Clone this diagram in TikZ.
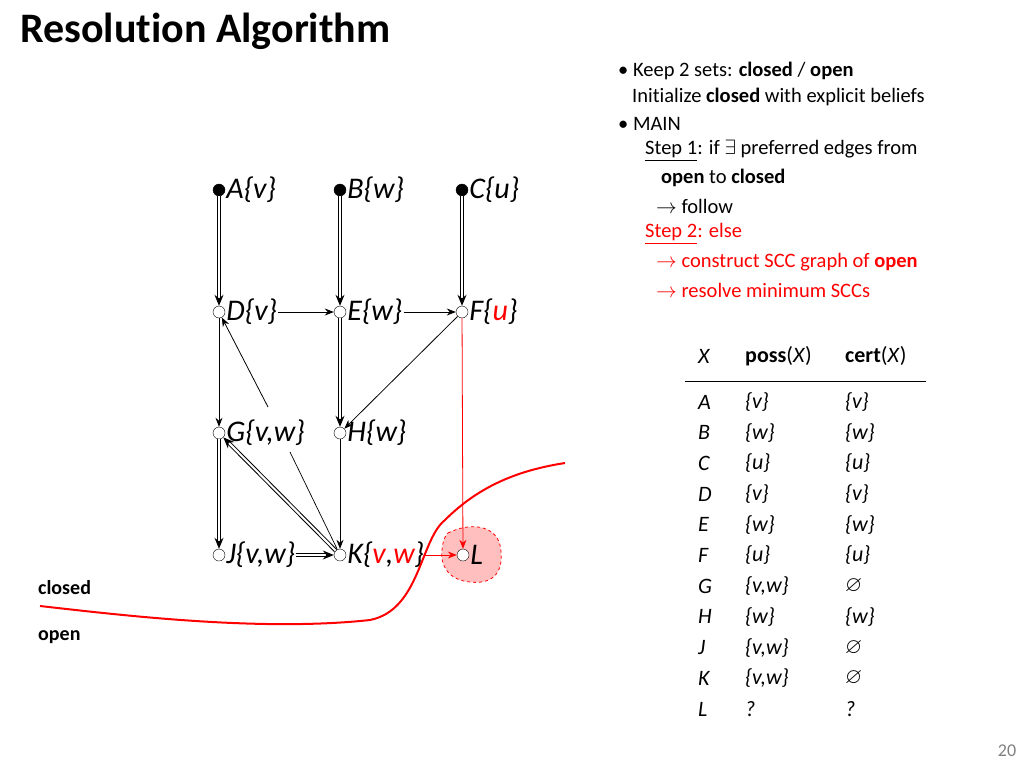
\documentclass[tikz,border=0pt]{standalone}
\usepackage{amssymb}
\usepackage{fontspec}
\setmainfont{Carlito}[Ligatures=NoCommon]
\usetikzlibrary{arrows.meta}
\begin{document}
\begin{tikzpicture}[x=1pt,y=-1pt,
  closedn/.style={circle,fill=black,draw=black,inner sep=0pt,minimum size=12pt},
  openn/.style={circle,fill=white,draw=black,inner sep=0pt,minimum size=12pt},
  lab/.style={anchor=west,font=\fontsize{30}{32}\selectfont\itshape,inner sep=1pt},
  dbl/.style={double,double distance=2pt,line width=1pt,-{Stealth[length=11pt,width=9pt]}},
  sgl/.style={line width=0.8pt,-{Stealth[length=9pt,width=7pt]}},
  txt/.style={anchor=west,font=\fontsize{20.5}{22}\selectfont,inner sep=0pt},
  tb/.style={anchor=west,font=\fontsize{22}{24}\selectfont,inner sep=0pt}]
\useasboundingbox (0,0) rectangle (1024,768);
\node[anchor=west,font=\fontsize{42}{46}\selectfont\bfseries,inner sep=0pt] (title) at (20,31) {Resolution Algorithm};
% bullets
\node[txt] (b1) at (618,71) {\textbullet\ Keep 2 sets: \textbf{closed} / \textbf{open}};
\node[txt] (b2) at (632,97) {Initialize \textbf{closed} with explicit beliefs};
\node[txt] (b3) at (618,124) {\textbullet\ MAIN};
\node[txt] (b4) at (645,151) {\underline{Step 1}: if $\exists$ preferred edges from};
\node[txt] (b5) at (661,178) {\textbf{open} to \textbf{closed}};
\node[txt] (b6) at (656,206) {$\rightarrow$ follow};
\node[txt,red] (b7) at (645,234) {\underline{Step 2}: else};
\node[txt,red] (b8) at (656,262) {$\rightarrow$ construct SCC graph of \textbf{open}};
\node[txt,red] (b9) at (656,290) {$\rightarrow$ resolve minimum SCCs};
% table
\node[tb] (hx) at (698,356) {\itshape X};
\node[tb] (hp) at (745,356) {\textbf{poss}(\textit{X})};
\node[tb] (hc) at (845,356) {\textbf{cert}(\textit{X})};
\draw[line width=0.8pt] (685,381) -- (926,381);
\foreach \n/\p/\c [count=\i from 0] in {A/{\{v\}}/{\{v\}},B/{\{w\}}/{\{w\}},C/{\{u\}}/{\{u\}},D/{\{v\}}/{\{v\}},E/{\{w\}}/{\{w\}},F/{\{u\}}/{\{u\}},G/{\{v,w\}}/{$\varnothing$},H/{\{w\}}/{\{w\}},J/{\{v,w\}}/{$\varnothing$},K/{\{v,w\}}/{$\varnothing$},L/?/?}{
  \node[tb] (tx\i) at (698,{402+30.7*\i}) {\itshape \n};
  \node[tb] (tp\i) at (745,{402+30.7*\i}) {\itshape \p};
  \node[tb] (tc\i) at (845,{402+30.7*\i}) {\itshape \c};
}
\node[anchor=west,font=\fontsize{20}{22}\selectfont\bfseries,inner sep=0pt] (cl) at (38,588) {closed};
\node[anchor=west,font=\fontsize{20}{22}\selectfont\bfseries,inner sep=0pt] (op) at (38,637) {open};
\node[font=\fontsize{18}{20}\selectfont,text=gray] (pg) at (1007,751) {20};
% L blob
\draw[red,dashed,fill=red!25,line width=0.8pt] (448,533) .. controls (470,522) and (495,525) .. (500,545) .. controls (505,570) and (495,585) .. (470,582) .. controls (448,580) and (440,565) .. (442,550) .. controls (443,540) and (445,536) .. (448,533) -- cycle;
% nodes
\node[closedn] (A) at (219,190) {}; \node[lab] at (A.east) {A\{v\}};
\node[closedn] (B) at (340,190) {}; \node[lab] at (B.east) {B\{w\}};
\node[closedn] (C) at (462,190) {}; \node[lab] at (C.east) {C\{u\}};
\node[openn] (D) at (219,312) {}; \node[lab] (Dl) at (D.east) {D\{v\}};
\node[openn] (E) at (340,312) {}; \node[lab] (El) at (E.east) {E\{w\}};
\node[openn] (F) at (462,312) {}; \node[lab] at (F.east) {F\{\textcolor{red}{u}\}};
\node[openn] (G) at (219,433) {}; \node[lab] (Gl) at (G.east) {G\{v,w\}};
\node[openn] (H) at (340,433) {}; \node[lab] at (H.east) {H\{w\}};
\node[openn] (J) at (219,555) {}; \node[lab] (Jl) at (J.east) {J\{v,w\}};
\node[openn] (K) at (340,555) {}; \node[lab] (Kl) at (K.east) {K\{\textcolor{red}{v},\textcolor{red}{w}\}};
\node[openn] (L) at (463,555) {}; \node[lab] at (L.east) {L};
\coordinate (g1) at (268,407);
\coordinate (g2) at (290,452);
% edges
\draw[dbl] (A) -- (D);
\draw[dbl] (B) -- (E);
\draw[dbl] (C) -- (F);
\draw[dbl] (E) -- (H);
\draw[dbl] (G) -- (J);
\draw[dbl] (K) -- (G);
\draw[sgl] (Dl) -- (E);
\draw[sgl] (El) -- (F);
\draw[sgl] (D) -- (G);
\draw[sgl] (F) -- (H);
\draw[sgl] (g1) -- (D);
\draw[line width=0.7pt] (g2) -- (K);
\draw[sgl] (H) -- (K);
\draw[dbl] (Jl) -- (K);
\draw[sgl,red] (F) -- (L);
\draw[sgl,red] (Kl.east) -- (L);
% separator curve
\draw[red,line width=2pt] (40,606) .. controls (120,615) and (260,632) .. (370,620) .. controls (420,610) and (420,540) .. (445,520) .. controls (480,485) and (520,470) .. (565,463);
\end{tikzpicture}
\end{document}
